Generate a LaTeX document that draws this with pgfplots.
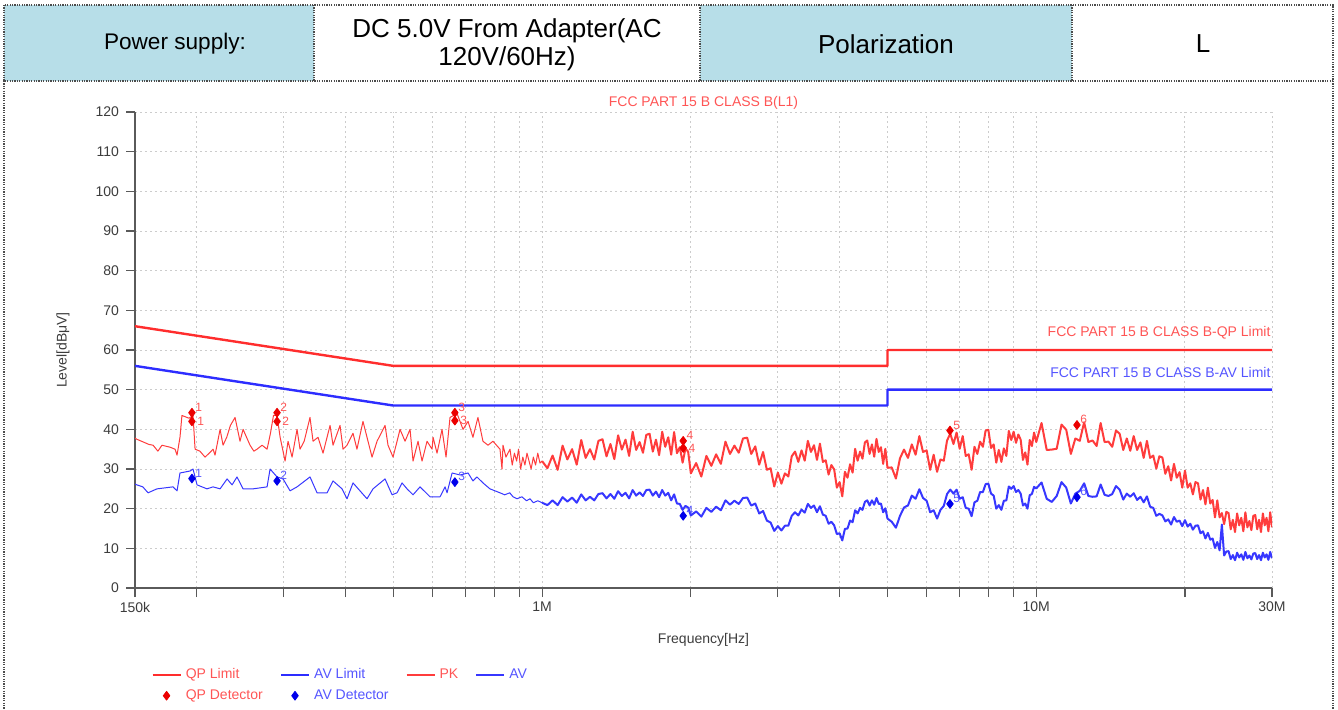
\documentclass[border=0pt]{standalone}
\usepackage{pgfplots}
\pgfplotsset{compat=1.18}
\usepackage{pgfplotstable}
\usepackage{fontspec}
\setmainfont{Liberation Sans}
\definecolor{cellblue}{RGB}{183,222,232}
\definecolor{qpl}{RGB}{255,45,45}
\definecolor{avl}{RGB}{45,45,255}
\definecolor{pkc}{RGB}{255,60,60}
\definecolor{avc}{RGB}{55,55,255}
\definecolor{redtxt}{RGB}{255,85,85}
\definecolor{bluetxt}{RGB}{85,85,255}
\definecolor{axgray}{RGB}{90,90,90}
\definecolor{ticktxt}{RGB}{60,60,60}
\definecolor{qpm}{RGB}{235,0,0}
\definecolor{avm}{RGB}{0,0,235}
\newcommand{\sm}{\fontsize{7}{8.4}\selectfont}

\pgfplotstableread{
f v
0.1500 37.8
0.1513 37.5
0.1560 36.8
0.1600 36.2
0.1632 36.0
0.1669 34.5
0.1701 36.0
0.1766 35.5
0.1808 35.0
0.1825 33.5
0.1850 38.0
0.1867 43.5
0.1930 42.8
0.1966 43.5
0.1985 35.0
0.2030 34.5
0.2079 33.0
0.2120 34.0
0.2158 35.0
0.2178 33.5
0.2230 40.0
0.2261 36.0
0.2300 38.0
0.2340 41.0
0.2391 43.0
0.2447 37.0
0.2482 40.0
0.2564 36.0
0.2610 34.5
0.2649 35.0
0.2712 36.0
0.2776 35.0
0.2820 39.0
0.2860 43.5
0.2908 43.5
0.2950 38.0
0.3019 32.0
0.3061 37.0
0.3119 33.0
0.3192 40.0
0.3237 35.0
0.3300 37.0
0.3391 43.0
0.3439 37.0
0.3520 38.0
0.3603 34.0
0.3723 41.0
0.3775 36.0
0.3900 41.0
0.3955 35.0
0.4029 36.0
0.4143 39.0
0.4220 35.0
0.4340 42.0
0.4527 33.0
0.4634 37.0
0.4810 41.0
0.4877 36.0
0.4993 33.0
0.5158 40.0
0.5280 37.0
0.5404 40.0
0.5480 32.0
0.5609 37.0
0.5715 32.0
0.5850 37.0
0.5988 35.0
0.6016 38.0
0.6129 34.0
0.6273 40.0
0.6391 33.0
0.6511 43.0
0.6727 44.0
0.6918 40.0
0.7083 42.0
0.7245 38.0
0.7416 43.0
0.7592 37.0
0.7772 36.0
0.7955 37.0
0.8218 35.0
0.8295 30.0
0.8334 36.0
0.8450 33.0
0.8610 35.0
0.8700 31.0
0.8790 34.0
0.8880 32.0
0.8960 35.0
0.9050 30.0
0.9140 33.0
0.9230 31.0
0.9320 34.0
0.9410 32.0
0.9500 30.0
0.9600 33.0
0.9700 31.0
0.9800 34.0
0.9900 31.5
1.0000 32.0
}\pklow

\pgfplotstableread{
f v
0.1500 26.2
0.1513 26.0
0.1556 25.5
0.1594 24.0
0.1662 25.0
0.1791 25.5
0.1825 24.5
0.1850 29.0
0.1939 29.5
0.1966 30.0
0.2003 26.0
0.2098 25.0
0.2158 25.5
0.2230 25.0
0.2304 27.5
0.2358 26.0
0.2413 28.0
0.2482 25.0
0.2600 25.0
0.2776 25.5
0.2815 30.0
0.2908 28.0
0.2991 27.5
0.3090 24.5
0.3192 25.5
0.3391 28.0
0.3504 24.0
0.3671 24.0
0.3775 27.0
0.3937 25.0
0.4029 22.5
0.4143 26.5
0.4280 24.5
0.4422 22.5
0.4548 25.0
0.4810 27.5
0.4970 23.5
0.5086 24.0
0.5206 26.5
0.5329 25.0
0.5480 23.5
0.5662 25.5
0.5932 23.0
0.6215 23.0
0.6362 25.5
0.6422 24.0
0.6574 29.0
0.6822 28.5
0.7083 29.0
0.7245 27.0
0.7382 28.0
0.7592 26.5
0.7843 25.0
0.8218 24.0
0.8400 23.5
0.8600 24.0
0.8733 23.0
0.8900 22.5
0.9100 23.0
0.9300 22.0
0.9451 22.5
0.9600 21.5
0.9800 22.0
1.0000 21.5
}\avlow

\pgfplotstableread{
f pk av
1.000 32.0 21.5
1.025 30.2 20.9
1.050 33.4 22.1
1.075 29.8 20.9
1.100 35.9 22.9
1.125 32.4 21.8
1.150 35.0 22.8
1.175 31.1 21.5
1.200 37.3 23.6
1.225 32.8 22.1
1.250 35.0 23.0
1.275 32.4 22.1
1.300 37.1 23.7
1.325 37.5 23.9
1.350 33.2 22.6
1.375 36.3 23.7
1.400 32.5 22.5
1.425 38.5 24.4
1.450 34.9 23.2
1.475 37.4 24.0
1.500 33.3 22.6
1.525 39.4 24.7
1.550 34.8 23.3
1.575 36.8 24.1
1.600 34.1 23.2
1.625 38.6 24.7
1.650 38.9 24.8
1.675 34.4 23.3
1.700 37.4 24.3
1.725 33.5 22.9
1.750 39.4 24.7
1.775 35.6 23.3
1.800 38.0 24.0
1.825 33.6 22.1
1.850 39.3 23.6
1.875 34.0 21.3
1.900 35.5 21.2
1.925 31.6 19.7
1.950 35.1 20.7
1.975 34.4 20.3
2.000 28.9 18.3
2.05 31.5 19.3
2.10 28.1 18.0
2.15 33.3 20.2
2.20 30.8 19.2
2.25 33.7 20.5
2.30 31.3 19.6
2.35 36.9 22.1
2.40 33.8 21.0
2.45 35.9 22.0
2.50 34.1 21.2
2.55 37.7 22.7
2.60 37.9 22.8
2.65 33.8 20.8
2.70 35.7 21.3
2.75 31.1 18.8
2.80 34.3 19.4
2.85 29.8 17.0
2.90 30.2 16.5
2.95 25.6 14.4
3.00 29.1 15.6
3.05 26.3 14.5
3.10 28.9 15.7
3.15 28.1 15.7
3.20 33.2 18.2
3.25 34.4 19.1
3.30 31.8 18.3
3.35 34.7 19.8
3.40 32.1 19.0
3.45 37.1 21.2
3.50 34.3 20.2
3.55 36.0 20.8
3.60 32.3 19.1
3.65 36.4 20.6
3.70 31.8 18.5
3.75 32.2 18.2
3.80 28.6 16.2
3.85 31.0 16.7
3.90 29.9 15.8
3.95 25.3 13.6
4.00 26.7 13.8
4.05 23.1 12.0
4.10 29.3 14.9
4.15 27.8 15.0
4.20 31.2 17.0
4.25 29.1 16.6
4.30 35.1 19.6
4.35 32.1 18.8
4.40 34.4 20.2
4.45 32.6 19.7
4.50 36.7 21.7
4.55 37.2 22.1
4.60 33.8 20.8
4.65 36.2 22.1
4.70 33.1 21.0
4.75 37.6 22.7
4.80 34.3 21.2
4.85 35.5 21.3
4.90 31.3 19.1
4.95 35.1 20.1
5.00 30.3 17.5
5.1 30.4 16.7
5.2 27.6 15.2
5.3 32.7 18.2
5.4 34.9 20.3
5.5 32.8 20.8
5.6 36.2 23.3
5.7 33.6 22.5
5.8 38.3 24.9
5.9 34.3 22.7
6.0 34.7 22.0
6.1 29.8 19.1
6.2 33.6 19.6
6.3 29.3 17.5
6.4 32.4 19.7
6.5 32.1 20.7
6.6 37.2 23.7
6.7 38.9 24.8
6.8 36.3 23.8
6.9 39.2 24.8
7.0 35.1 22.5
7.1 38.3 22.9
7.2 33.3 20.2
7.3 33.7 20.0
7.4 29.8 18.1
7.5 35.6 21.6
7.6 33.8 22.0
7.7 36.9 24.2
7.8 35.6 24.2
7.9 39.7 26.2
8.0 39.9 26.3
8.1 35.3 23.8
8.2 36.2 23.3
8.3 31.6 20.0
8.4 34.8 20.9
8.5 31.8 19.7
8.6 35.2 22.0
8.7 33.3 22.1
8.8 39.6 25.6
8.9 37.3 25.0
9.0 39.4 25.7
9.1 36.6 24.2
9.2 38.7 24.7
9.3 37.4 23.8
9.4 32.3 20.8
9.5 34.2 21.3
9.6 31.1 20.0
9.7 37.3 23.4
9.8 35.8 23.7
9.9 39.2 25.5
10.0 36.8 25.1
10.25 41.6 26.6
10.50 34.8 22.5
10.75 34.9 21.7
11.00 35.1 23.2
11.25 41.2 26.7
11.50 39.9 25.3
11.75 33.8 21.3
12.00 37.7 23.8
12.25 37.1 24.5
12.50 41.8 26.4
12.75 36.8 23.2
13.00 37.2 23.0
13.25 35.8 23.1
13.50 41.6 26.1
13.75 36.8 23.5
14.00 36.9 23.2
14.25 35.6 23.7
14.50 39.7 25.7
14.75 38.9 24.8
15.00 34.8 22.3
15.25 37.7 23.8
15.50 34.6 23.0
15.75 38.3 23.9
16.00 34.8 22.2
16.25 36.7 23.0
16.50 32.8 21.6
16.75 37.1 23.1
17.00 32.8 20.5
17.25 33.4 20.2
17.50 30.1 18.2
17.75 33.2 18.7
18.00 32.9 18.3
18.25 28.8 16.8
18.50 30.7 17.3
18.75 27.1 16.0
19.00 31.3 17.9
19.25 27.8 16.7
19.50 29.2 17.0
19.75 25.3 15.6
20.00 29.6 17.1
20.25 25.3 15.5
20.50 26.4 16.2
20.75 23.6 14.7
21.00 26.7 15.7
21.25 26.4 15.8
21.50 22.3 13.8
21.75 24.7 14.3
22.00 21.1 12.5
22.25 25.3 13.9
22.50 21.3 12.2
22.75 22.2 12.5
23.00 17.8 10.1
23.25 22.1 11.6
23.50 17.8 9.5
23.75 18.9 16.0
24.00 16.1 8.2
24.25 19.2 9.2
24.50 18.9 9.3
24.75 14.8 7.3
25.00 17.2 8.3
25.25 14.1 7.0
25.50 18.8 8.9
25.75 15.8 7.7
26.00 17.7 8.5
26.25 14.3 7.1
26.50 19.1 9.1
26.75 15.3 7.5
27.00 16.9 8.2
27.25 14.6 7.2
27.50 18.2 8.7
27.75 18.4 8.8
28.00 14.8 7.3
28.25 17.2 8.3
28.50 14.1 7.0
28.75 18.8 8.9
29.00 15.8 7.7
29.25 17.7 8.5
29.50 14.3 7.1
29.75 19.1 9.1
30.00 15.3 7.5
}\hi

\pgfplotstableread{
f v lab
0.1956 44.2 1
0.2908 44.2 2
0.6660 44.2 3
1.9300 37.1 4
6.6900 39.7 5
12.090 41.1 6
}\qpdet

\pgfplotstableread{
f v lab
0.1956 42.0 1
0.2908 42.0 2
0.6660 42.2 3
1.9300 35.3 4
}\qpdetb

\pgfplotstableread{
f v lab
0.1956 27.6 1
0.2908 27.0 2
0.6660 26.7 3
1.9300 18.2 4
6.6900 21.2 5
12.090 22.9 6
}\avdet

\begin{document}
\begin{tikzpicture}
\tikzset{border/.style={draw=black!70, line width=0.6pt, dash pattern=on 0.6pt off 0.6pt}}
\begin{scope}[x=0.5pt,y=-0.5pt]
\fill[cellblue] (4,5) rectangle (314,81);
\fill[cellblue] (700,5) rectangle (1072,81);
\draw[border] (4,5) rectangle (1333,81);
\draw[border] (314,5) -- (314,81);
\draw[border] (700,5) -- (700,81);
\draw[border] (1072,5) -- (1072,81);
\draw[border] (4,81) -- (4,709);
\draw[border] (1333,81) -- (1333,709);
\node[font=\fontsize{11.3}{14}\selectfont] at (175,44) {Power supply:};
\node[font=\fontsize{13}{14}\selectfont, align=center] at (507,45) {DC 5.0V From Adapter(AC\\120V/60Hz)};
\node[font=\fontsize{13}{14}\selectfont] at (886,44) {Polarization};
\node[font=\fontsize{13}{14}\selectfont] at (1203,44) {L};
\end{scope}

\begin{axis}[
  at={(67.5pt,-294pt)}, anchor=south west,
  scale only axis, width=568.5pt, height=238pt,
  xmode=log, xmin=0.15, xmax=30, ymin=0, ymax=120,
  axis x line*=bottom, axis y line*=left,
  axis line style={draw=axgray, line width=0.6pt},
  xtick={0.15,1,10,30}, xticklabels={150k,1M,10M,30M},
  minor xtick={0.2,0.3,0.4,0.5,0.6,0.7,0.8,0.9,2,3,4,5,6,7,8,9,20},
  ytick={0,10,...,120},
  tick align=outside,
  major tick length=4.5pt, minor tick length=4.5pt,
  every tick/.style={draw=axgray, line width=0.6pt},
  xmajorgrids, ymajorgrids, xminorgrids,
  major grid style={draw=gray!40, line width=0.5pt, dash pattern=on 1pt off 1.5pt},
  minor grid style={draw=gray!40, line width=0.5pt, dash pattern=on 1pt off 1.5pt},
  tick label style={font=\sm, text=ticktxt},
  /pgf/number format/assume math mode=true,
  xticklabel style={yshift=1pt},
  xlabel={Frequency[Hz]},
  xlabel style={at={(axis description cs:0.5,-0.109)}, anchor=center, font=\sm, text=ticktxt},
  ylabel={Level[dBμV]},
  ylabel style={at={(axis description cs:-0.0633,0.5)}, anchor=center, rotate=0, font=\sm, text=ticktxt},
  legend columns=4,
  legend cell align=left,
  legend style={at={(axis description cs:0.0123,-0.155)}, anchor=north west, draw=none, fill=none, font=\sm,
    /tikz/every even column/.append style={column sep=6.5pt},
    row sep=0pt, inner sep=1pt},
  legend image code/.code={\draw[mark repeat=2,mark phase=2,#1] plot coordinates {(0pt,0pt) (7pt,0pt) (14pt,0pt)};},
  every axis plot/.append style={line join=round},
  clip mode=individual,
]
\addplot[qpl, line width=1.2pt] coordinates {(0.15,66) (0.5,56) (5,56) (5,60) (30,60)};
\addlegendentry{\textcolor{redtxt}{QP Limit}}
\addplot[avl, line width=1.2pt] coordinates {(0.15,56) (0.5,46) (5,46) (5,50) (30,50)};
\addlegendentry{\textcolor{bluetxt}{AV Limit}}
\addplot[pkc, line width=0.5pt, forget plot] table[x=f,y=v] {\pklow};
\addplot[pkc, line width=1pt] table[x=f,y=pk] {\hi};
\addlegendentry{\textcolor{redtxt}{PK}}
\addplot[avc, line width=0.5pt, forget plot] table[x=f,y=v] {\avlow};
\addplot[avc, line width=1pt] table[x=f,y=av] {\hi};
\addlegendentry{\textcolor{bluetxt}{AV}}
\addplot[only marks, mark=diamond*, mark size=2.2pt, color=qpm,
  point meta=explicit symbolic, nodes near coords,
  nodes near coords style={font=\fontsize{6}{6}\selectfont, text=redtxt, anchor=south west, inner sep=0.5pt, xshift=1pt}]
  table[x=f,y=v,meta=lab] {\qpdet};
\addlegendentry{\textcolor{redtxt}{QP Detector}}
\addplot[only marks, mark=diamond*, mark size=2.2pt, color=qpm, forget plot,
  point meta=explicit symbolic, nodes near coords,
  nodes near coords style={font=\fontsize{6}{6}\selectfont, text=redtxt, anchor=west, inner sep=0.5pt, xshift=2pt}]
  table[x=f,y=v,meta=lab] {\qpdetb};
\addplot[only marks, mark=diamond*, mark size=2.2pt, color=avm,
  point meta=explicit symbolic, nodes near coords,
  nodes near coords style={font=\fontsize{6}{6}\selectfont, text=bluetxt, anchor=south west, inner sep=0.5pt, xshift=1pt}]
  table[x=f,y=v,meta=lab] {\avdet};
\addlegendentry{\textcolor{bluetxt}{AV Detector}}
\node[font=\sm, text=redtxt] at (axis description cs:0.5,1.019) {FCC PART 15 B CLASS B(L1)};
\node[font=\sm, text=redtxt, anchor=east, inner sep=0pt] at (axis description cs:0.999,0.536) {FCC PART 15 B CLASS B-QP Limit};
\node[font=\sm, text=bluetxt, anchor=east, inner sep=0pt] at (axis description cs:0.999,0.452) {FCC PART 15 B CLASS B-AV Limit};
\end{axis}
\pgfresetboundingbox
\useasboundingbox (0,0) rectangle (669pt,-354.5pt);
\end{tikzpicture}
\end{document}
